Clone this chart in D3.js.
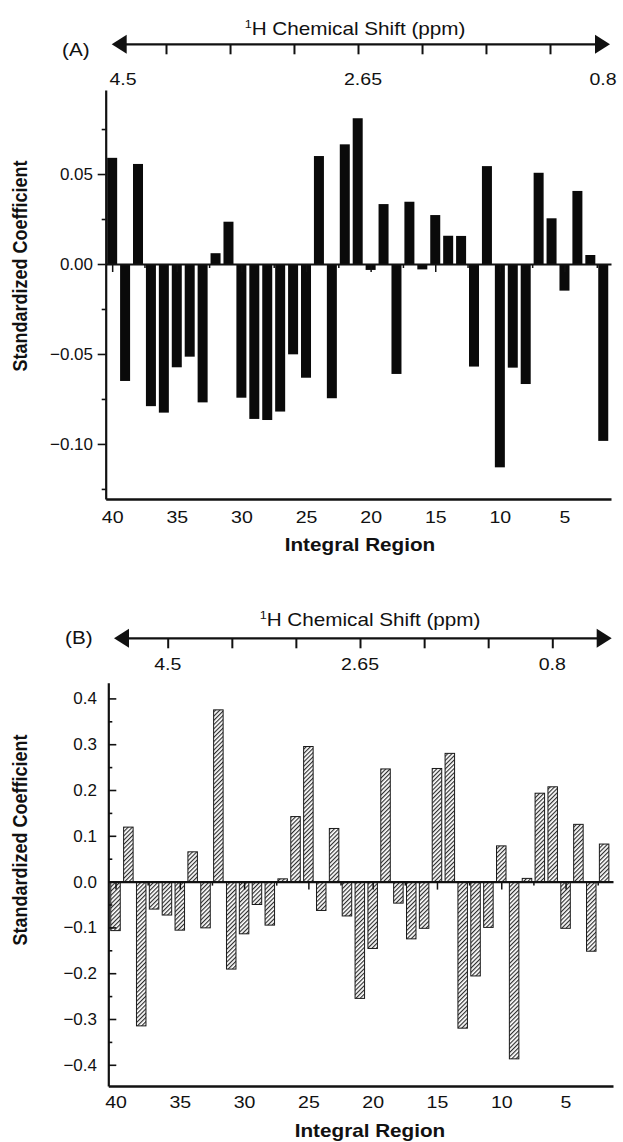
<!DOCTYPE html>
<html>
<head>
<meta charset="utf-8">
<script src="https://cdn.jsdelivr.net/npm/d3@7/dist/d3.min.js"></script>
<style>
  body { margin: 0; background: #fff; }
  svg text { font-family: "Liberation Sans", Arial, Helvetica, sans-serif; fill: #111; }
</style>
</head>
<body>
<svg id="chart" width="623" height="1142"></svg>
<script>
// integral regions, left to right (40 down to 2)
const regions = d3.range(40, 1, -1);

// panel A standardized coefficients, same order as regions
const coefA = [0.059, -0.065, 0.0556, -0.079, -0.0826, -0.0574, -0.0515, -0.0769, 0.006, 0.0235,
  -0.0743, -0.0861, -0.0867, -0.082, -0.0502, -0.0632, 0.060, -0.0746, 0.0665, 0.081,
  -0.0033, 0.0333, -0.0611, 0.0346, -0.003, 0.0272, 0.0157, 0.0156, -0.057, 0.0544,
  -0.113, -0.0576, -0.0667, 0.0507, 0.0254, -0.0148, 0.0406, 0.005, -0.0983];

// panel B standardized coefficients
const coefB = [-0.107, 0.119, -0.315, -0.060, -0.073, -0.106, 0.065, -0.101, 0.375, -0.191,
  -0.114, -0.050, -0.095, 0.006, 0.142, 0.295, -0.063, 0.116, -0.075, -0.255,
  -0.146, 0.246, -0.047, -0.125, -0.102, 0.247, 0.280, -0.320, -0.206, -0.100,
  0.078, -0.387, 0.007, 0.193, 0.207, -0.102, 0.125, -0.152, 0.082];

const regionTicks = [40, 35, 30, 25, 20, 15, 10, 5];
const regionMinor = [37.5, 32.5, 27.5, 22.5, 17.5, 12.5, 7.5, 2.5];

const ppmTicks = [4.5, 3.883, 3.267, 2.65, 2.033, 1.417, 0.8];
const ppmLabels = [4.5, 2.65, 0.8];

const yTicksA = [-0.10, -0.05, 0.00, 0.05];
const yMinorA = [-0.125, -0.075, -0.025, 0.025, 0.075];
const yTicksB = [-0.4, -0.3, -0.2, -0.1, 0.0, 0.1, 0.2, 0.3, 0.4];
const yMinorB = [-0.35, -0.25, -0.15, -0.05, 0.05, 0.15, 0.25, 0.35];

const SX = 1.15; // the figure is a bit stretched sideways

const svg = d3.select('#chart');
svg.append('rect').attr('width', 623).attr('height', 1142).attr('fill', '#fff');

const defs = svg.append('defs');
const hatch = defs.append('pattern')
  .attr('id', 'hatch')
  .attr('patternUnits', 'userSpaceOnUse')
  .attr('width', 3).attr('height', 10)
  .attr('patternTransform', 'rotate(45)');
hatch.append('rect').attr('width', 3).attr('height', 10).attr('fill', '#fff');
hatch.append('line').attr('x1', 0.6).attr('y1', 0).attr('x2', 0.6).attr('y2', 10)
  .attr('stroke', '#222').attr('stroke-width', 1.1);

const text = (g, x, y, str, opts = {}) => {
  const t = g.append('text')
    .attr('transform', `translate(${x},${y}) scale(${opts.sx || SX},1)${opts.rotate ? ' rotate(' + opts.rotate + ')' : ''}`)
    .attr('text-anchor', opts.anchor || 'middle')
    .style('font-size', (opts.size || 17) + 'px')
    .style('font-weight', opts.bold ? 'bold' : 'normal');
  if (str != null) t.text(str);
  return t;
};

const panels = [
  {
    label: '(A)', labelPos: [62, 56], data: coefA, kind: 'solid',
    left: 105.7, right: 611, top: 90, bottom: 499,
    xDomain: [40.5, 1.4], yDomain: [-0.1306, 0.0967],
    yTicks: yTicksA, yMinor: yMinorA, yFmt: d3.format('.2f'), tickDir: 1, tickPad: 4.7,
    arrowY: 44.3, arrow: [111.7, 610], ppmTickRange: [166, 550], ppmLabelRange: [123, 603],
    ppmLabelY: 85, titleX: 355, titleY: 35,
    xLabelPad: 11.5, xTitle: [360, 551], yTitle: [20, 266]
  },
  {
    label: '(B)', labelPos: [65, 644], data: coefB, kind: 'hatch',
    left: 108.3, right: 613, top: 682.7, bottom: 1086,
    xDomain: [40.56, 1.31], yDomain: [-0.4463, 0.4343],
    yTicks: yTicksB, yMinor: yMinorB, yFmt: d3.format('.1f'), tickDir: -1, tickPad: 11.3,
    arrowY: 638.3, arrow: [114, 611.7], ppmTickRange: [167.7, 552.3], ppmLabelRange: [167.7, 552.3],
    ppmLabelY: 670, titleX: 370, titleY: 626,
    xLabelPad: 9.9, xTitle: [370, 1137], yTitle: [20, 840]
  }
];

panels.forEach(p => {
  const g = svg.append('g');
  const x = d3.scaleLinear().domain(p.xDomain).range([p.left, p.right]);
  const y = d3.scaleLinear().domain(p.yDomain).range([p.bottom, p.top]);
  const bw = p.kind === 'solid' ? 10 : 9.5;

  // chemical shift arrow axis on top
  const ppm = d3.scaleLinear().domain([4.5, 0.8]).range(p.ppmTickRange);
  const ppmLab = d3.scaleLinear().domain([4.5, 0.8]).range(p.ppmLabelRange);
  const [a0, a1] = p.arrow;
  g.append('line')
    .attr('x1', a0 + 10).attr('x2', a1 - 10)
    .attr('y1', p.arrowY).attr('y2', p.arrowY)
    .attr('stroke', '#111').attr('stroke-width', 2.2);
  g.append('path')
    .attr('d', `M${a0},${p.arrowY} L${a0 + 15},${p.arrowY - 9.5} L${a0 + 15},${p.arrowY + 9.5} Z`)
    .attr('fill', '#111');
  g.append('path')
    .attr('d', `M${a1},${p.arrowY} L${a1 - 15},${p.arrowY - 9.5} L${a1 - 15},${p.arrowY + 9.5} Z`)
    .attr('fill', '#111');
  const ppmAxis = g.append('g')
    .attr('transform', `translate(0,${p.arrowY})`)
    .call(d3.axisBottom(ppm).tickValues(ppmTicks).tickSize(10).tickFormat(''));
  ppmAxis.select('.domain').remove();
  ppmAxis.selectAll('line').attr('stroke', '#111').attr('stroke-width', 2);

  ppmLabels.forEach(v => text(g, ppmLab(v), p.ppmLabelY, String(v)));

  const title = text(g, p.titleX, p.titleY, null, { size: 18 });
  title.append('tspan').style('font-size', '11px').attr('dy', -7).text('1');
  title.append('tspan').attr('dy', 7).text('H Chemical Shift (ppm)');

  text(g, p.labelPos[0], p.labelPos[1], p.label, { anchor: 'start', size: 18 });

  // bars
  g.append('g').selectAll('rect')
    .data(p.data.map((v, i) => ({ r: regions[i], v })))
    .join('rect')
    .attr('x', d => x(d.r) - bw / 2)
    .attr('width', bw)
    .attr('y', d => y(Math.max(0, d.v)))
    .attr('height', d => Math.abs(y(d.v) - y(0)))
    .attr('fill', p.kind === 'solid' ? '#0a0a0a' : 'url(#hatch)')
    .attr('stroke', p.kind === 'solid' ? 'none' : '#1a1a1a')
    .attr('stroke-width', 1);

  // zero line with region ticks
  const zero = g.append('g')
    .attr('transform', `translate(0,${y(0)})`)
    .call(d3.axisBottom(x).tickValues(regionTicks).tickSize(8).tickSizeOuter(0).tickFormat(''));
  zero.select('.domain').attr('stroke', '#111').attr('stroke-width', 2.2);
  zero.selectAll('.tick line').attr('stroke', '#111').attr('stroke-width', 1.5);
  const zeroMinor = g.append('g')
    .attr('transform', `translate(0,${y(0)})`)
    .call(d3.axisBottom(x).tickValues(regionMinor).tickSize(4).tickSizeOuter(0).tickFormat(''));
  zeroMinor.select('.domain').remove();
  zeroMinor.selectAll('.tick line').attr('stroke', '#111').attr('stroke-width', 1.5);

  // bottom axis
  const xAxis = g.append('g')
    .attr('transform', `translate(0,${p.bottom})`)
    .call(d3.axisBottom(x).tickValues(regionTicks).tickSize(0).tickSizeOuter(0).tickPadding(p.xLabelPad));
  xAxis.select('.domain').attr('stroke', '#111').attr('stroke-width', 2.6);
  xAxis.selectAll('text')
    .style('font-size', '17px')
    .attr('transform', `scale(${SX},1)`);

  // y axis
  const yAxis = g.append('g')
    .attr('transform', `translate(${p.left},0)`)
    .call(d3.axisLeft(y).tickValues(p.yTicks).tickFormat(p.yFmt)
      .tickSize(8 * p.tickDir).tickSizeOuter(0).tickPadding(p.tickPad));
  yAxis.select('.domain').attr('stroke', '#111').attr('stroke-width', 2.2);
  yAxis.selectAll('.tick line').attr('stroke', '#111').attr('stroke-width', 1.6);
  yAxis.selectAll('text').style('font-size', '17px');
  const yMinorAxis = g.append('g')
    .attr('transform', `translate(${p.left},0)`)
    .call(d3.axisLeft(y).tickValues(p.yMinor).tickFormat('').tickSize(4 * p.tickDir).tickSizeOuter(0));
  yMinorAxis.select('.domain').remove();
  yMinorAxis.selectAll('.tick line').attr('stroke', '#111').attr('stroke-width', 1.6);

  // axis titles
  text(g, p.xTitle[0], p.xTitle[1], 'Integral Region', { size: 18, bold: true });
  text(g, p.yTitle[0], p.yTitle[1], 'Standardized Coefficient', { size: 18, bold: true, sx: 1.1, rotate: -90 })
    .attr('dy', '0.35em');
});
</script>
</body>
</html>
